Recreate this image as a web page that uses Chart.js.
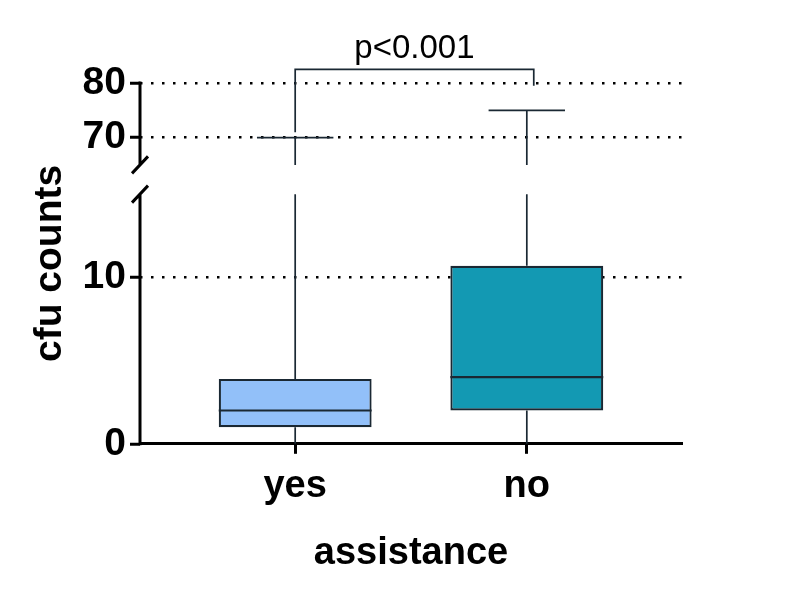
<!DOCTYPE html>
<html>
<head>
<meta charset="utf-8">
<script src="https://cdn.jsdelivr.net/npm/chart.js@4/dist/chart.umd.min.js"></script>
<style>
  html, body { margin: 0; padding: 0; background: #fff; }
  #wrap { width: 800px; height: 604px; }
</style>
</head>
<body>
<div id="wrap"><canvas id="boxChart"></canvas></div>
<script>
// box plot data (cfu counts)
const categories = ["yes", "no"];
const mins = [0, 0];
const q1s = [1, 2];
const medians = [2, 4];
const q3s = [3.9, 10.7];
const maxs = [70, 75];
const boxColors = ["#92c0f9", "#1399b3"];

// broken y axis: lower 0-15, upper 65-80
const yTicks = [0, 10, 70, 80];
const lowerRange = [0, 15];
const upperRange = [65, 80];

// significance bracket
const pLabel = "p<0.001";
const bracketLevel = 82.5;
const bracketLegs = [71, 79.5];
const bracketX = [1, 2.03];

const ink = "#1a2833";
const FONT = "'Liberation Sans', Arial, sans-serif";

// y scale with a gap between the two value ranges
class BrokenScale extends Chart.LinearScale {
  segs() {
    const h = this.bottom - this.top;
    const lowPx = h * 0.692, gapPx = h * 0.081;
    return { lowTop: this.bottom - lowPx, upBottom: this.bottom - lowPx - gapPx };
  }
  getPixelForValue(v) {
    const s = this.segs();
    if (v <= lowerRange[1]) {
      return this.bottom - (v - lowerRange[0]) / (lowerRange[1] - lowerRange[0]) * (this.bottom - s.lowTop);
    }
    if (v >= upperRange[0]) {
      return s.upBottom - (v - upperRange[0]) / (upperRange[1] - upperRange[0]) * (s.upBottom - this.top);
    }
    return s.lowTop - (v - lowerRange[1]) / (upperRange[0] - lowerRange[1]) * (s.lowTop - s.upBottom);
  }
  getValueForPixel(p) {
    const s = this.segs();
    if (p >= s.lowTop) return lowerRange[0] + (this.bottom - p) / (this.bottom - s.lowTop) * (lowerRange[1] - lowerRange[0]);
    if (p <= s.upBottom) return upperRange[0] + (s.upBottom - p) / (s.upBottom - this.top) * (upperRange[1] - upperRange[0]);
    return lowerRange[1] + (s.lowTop - p) / (s.lowTop - s.upBottom) * (upperRange[0] - lowerRange[1]);
  }
}
BrokenScale.id = "broken";
BrokenScale.defaults = {};
Chart.register(BrokenScale);

const boxPlugin = {
  id: "boxExtras",
  afterDatasetsDraw(chart) {
    const ctx = chart.ctx;
    const x = chart.scales.x, y = chart.scales.y;
    const meta = chart.getDatasetMeta(0);
    ctx.save();
    ctx.strokeStyle = ink;
    ctx.lineCap = "butt";
    meta.data.forEach((bar, i) => {
      const cx = bar.x, half = bar.width / 2;
      // median
      ctx.lineWidth = 2.2;
      ctx.beginPath();
      ctx.moveTo(cx - half, y.getPixelForValue(medians[i]));
      ctx.lineTo(cx + half, y.getPixelForValue(medians[i]));
      ctx.stroke();
      ctx.lineWidth = 1.7;
      ctx.beginPath();
      // lower whisker
      ctx.moveTo(cx, y.getPixelForValue(q1s[i]));
      ctx.lineTo(cx, y.getPixelForValue(mins[i]));
      // upper whisker, split at the break
      if (maxs[i] > lowerRange[1]) {
        ctx.moveTo(cx, y.getPixelForValue(q3s[i]));
        ctx.lineTo(cx, y.getPixelForValue(lowerRange[1]));
        ctx.moveTo(cx, y.getPixelForValue(upperRange[0]));
        ctx.lineTo(cx, y.getPixelForValue(maxs[i]));
      } else {
        ctx.moveTo(cx, y.getPixelForValue(q3s[i]));
        ctx.lineTo(cx, y.getPixelForValue(maxs[i]));
      }
      ctx.moveTo(cx - half / 2, y.getPixelForValue(maxs[i]));
      ctx.lineTo(cx + half / 2, y.getPixelForValue(maxs[i]));
      ctx.stroke();
    });

    // broken y axis line
    const ax = x.left;
    ctx.strokeStyle = "#000";
    ctx.lineWidth = 3;
    ctx.beginPath();
    ctx.moveTo(ax, y.getPixelForValue(lowerRange[0]) + 1.5);
    ctx.lineTo(ax, y.getPixelForValue(lowerRange[1]));
    ctx.moveTo(ax, y.getPixelForValue(upperRange[0]));
    ctx.lineTo(ax, y.getPixelForValue(upperRange[1]) - 1.5);
    [lowerRange[1], upperRange[0]].forEach(v => {
      const py = y.getPixelForValue(v);
      ctx.moveTo(ax - 8, py + 8.5);
      ctx.lineTo(ax + 8, py - 8.5);
    });
    ctx.stroke();

    // significance bracket
    const by = y.getPixelForValue(bracketLevel);
    const lx = x.getPixelForValue(bracketX[0]), rx = x.getPixelForValue(bracketX[1]);
    ctx.strokeStyle = ink;
    ctx.lineWidth = 1.7;
    ctx.beginPath();
    ctx.moveTo(lx, y.getPixelForValue(bracketLegs[0]));
    ctx.lineTo(lx, by);
    ctx.lineTo(rx, by);
    ctx.lineTo(rx, y.getPixelForValue(bracketLegs[1]));
    ctx.stroke();
    ctx.fillStyle = "#000";
    ctx.font = "33px " + FONT;
    ctx.textAlign = "center";
    ctx.textBaseline = "alphabetic";
    ctx.fillText(pLabel, (lx + rx) / 2, by - 11);
    ctx.restore();
  }
};

new Chart(document.getElementById("boxChart"), {
  type: "bar",
  data: {
    datasets: [{
      data: categories.map((c, i) => ({ x: i + 1, y: [q1s[i], q3s[i]] })),
      backgroundColor: boxColors,
      borderColor: ink,
      borderWidth: 2.2,
      borderSkipped: false,
      barPercentage: 0.66,
      categoryPercentage: 1
    }]
  },
  options: {
    responsive: true,
    maintainAspectRatio: false,
    animation: false,
    layout: { padding: { left: 0, right: 118, top: 83, bottom: 28 } },
    plugins: { legend: { display: false }, tooltip: { enabled: false } },
    scales: {
      x: {
        type: "linear",
        min: 0.33,
        max: 2.67,
        offset: false,
        afterBuildTicks: s => { s.ticks = [{ value: 1 }, { value: 2 }]; },
        ticks: {
          callback: v => categories[v - 1],
          color: "#000",
          font: { family: FONT, size: 38, weight: "bold" },
          padding: 10
        },
        grid: { offset: false, drawOnChartArea: false, drawTicks: true, tickLength: 10, tickWidth: 3, tickColor: "#000" },
        border: { display: true, color: "#000", width: 3 },
        title: {
          display: true,
          text: "assistance",
          color: "#000",
          font: { family: FONT, size: 38, weight: "bold" },
          padding: { top: 11, bottom: 0 }
        }
      },
      y: {
        type: "broken",
        min: 0,
        max: 80,
        afterBuildTicks: s => { s.ticks = yTicks.map(v => ({ value: v })); },
        afterFit: s => { s.width = 140; },
        ticks: {
          color: "#000",
          font: { family: FONT, size: 39, weight: "bold" },
          padding: 4
        },
        grid: {
          color: c => (c.tick && c.tick.value === 0 ? "rgba(0,0,0,0)" : "#000"),
          lineWidth: 2.5,
          tickColor: "#000",
          tickWidth: 3,
          tickLength: 10
        },
        border: { display: false, dash: [2.5, 8.5] },
        title: {
          display: true,
          text: "cfu counts",
          color: "#000",
          font: { family: FONT, size: 39, weight: "bold" },
          padding: { top: 27, bottom: 0 }
        }
      }
    }
  },
  plugins: [boxPlugin]
});
</script>
</body>
</html>
